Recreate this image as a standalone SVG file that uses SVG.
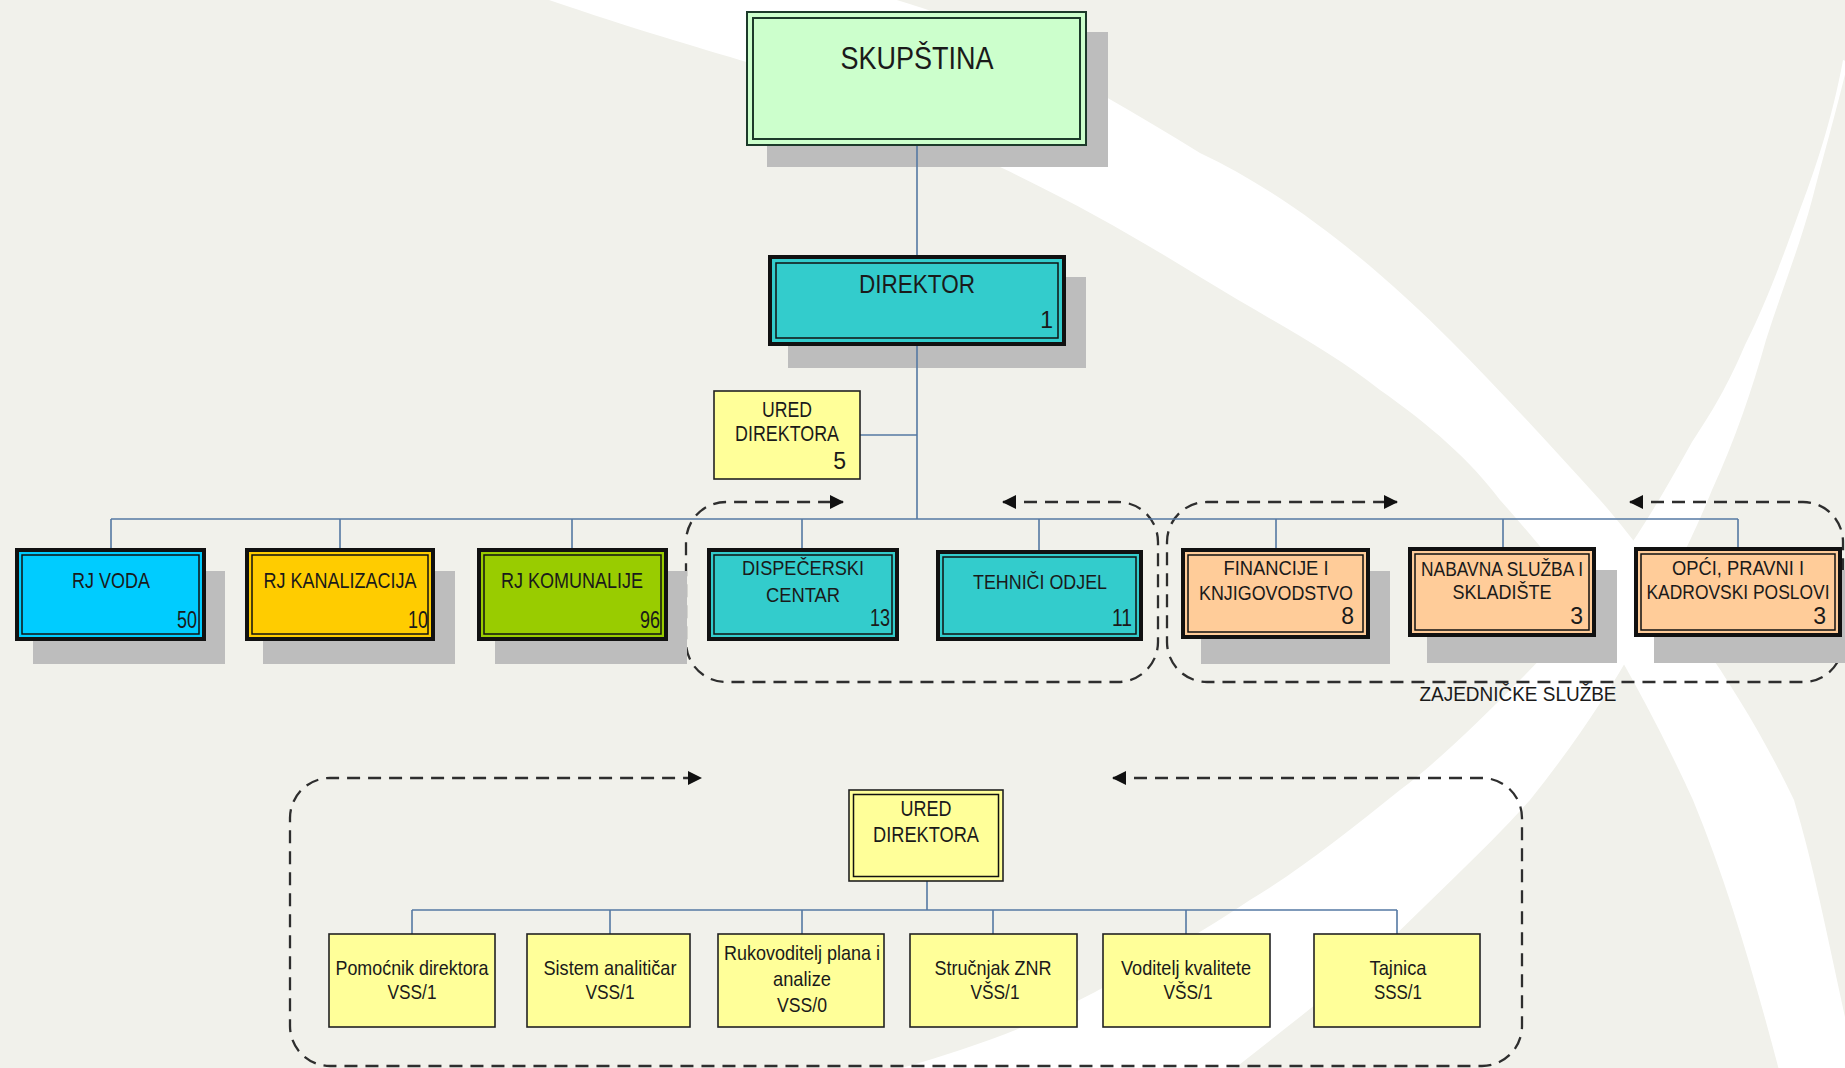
<svg xmlns="http://www.w3.org/2000/svg" width="1845" height="1068" viewBox="0 0 1845 1068">
<defs>
<style>
.t{font-family:"Liberation Sans Narrow","Liberation Sans",Arial,sans-serif;fill:#1a1a1a;text-anchor:middle;}
.n{font-family:"Liberation Sans Narrow","Liberation Sans",Arial,sans-serif;fill:#1a1a1a;text-anchor:end;font-size:23px;}
.sh{fill:#bdbdbd;}
.ob{stroke:#111;stroke-width:4;}
.ib{fill:none;stroke:#111;stroke-width:1.5;}
.thin{stroke:#222;stroke-width:1.6;}
.con{fill:none;stroke:#5579a3;stroke-width:1.6;}
.dash{fill:none;stroke:#2e2e2e;stroke-width:2.3;stroke-dasharray:13 8;marker-start:url(#ah);marker-end:url(#ah);}
.band{fill:#ffffff;}
</style>
<marker id="ah" viewBox="0 0 14 14" refX="13" refY="7" markerWidth="14" markerHeight="14" markerUnits="userSpaceOnUse" orient="auto-start-reverse">
<path d="M0,0 L14,7 L0,14 Z" fill="#111"/>
</marker>
</defs>

<rect x="0" y="0" width="1845" height="1068" fill="#f1f1eb"/>
<g id="background">
<path class="band" d="M520,-10 C620,25 690,45 750,63 C850,95 930,130 1000,167 C1080,205 1140,240 1200,277 C1270,320 1330,350 1380,390 C1430,425 1470,460 1500,500 C1545,550 1580,595 1610,640 C1645,700 1670,750 1693,800 C1730,890 1755,980 1779,1070 L1850,1070 L1850,1040 C1830,950 1815,870 1794,800 C1765,740 1735,690 1700,640 C1670,590 1640,545 1600,500 C1550,445 1500,390 1450,340 C1390,280 1300,200 1200,153 C1130,110 1060,70 1000,40 C950,15 900,0 860,-10 Z"/>
<path class="band" d="M1843,60 C1832,120 1815,170 1798,215 C1780,265 1765,305 1745,345 C1728,385 1712,412 1692,442 C1667,487 1645,525 1620,560 C1590,605 1555,645 1520,680 C1480,720 1440,760 1400,790 C1350,830 1300,870 1250,900 C1190,940 1120,980 1060,1010 C1000,1040 930,1060 860,1080 L1220,1080 C1270,1040 1330,995 1380,950 C1430,900 1485,850 1530,800 C1570,750 1608,695 1638,640 C1666,590 1692,540 1712,490 C1735,440 1752,390 1766,340 C1782,290 1800,245 1812,200 C1825,150 1838,105 1848,62 Z"/>
</g>

<g id="groups">
<path class="dash" d="M1003,502 L1118,502 A40,40 0 0 1 1158,542 L1158,642 A40,40 0 0 1 1118,682 L726,682 A40,40 0 0 1 686,642 L686,542 A40,40 0 0 1 726,502 L843,502"/>
<path class="dash" d="M1630,502 L1803,502 A40,40 0 0 1 1843,542 L1843,642 A40,40 0 0 1 1803,682 L1207,682 A40,40 0 0 1 1167,642 L1167,542 A40,40 0 0 1 1207,502 L1397,502"/>
<path class="dash" d="M1113,778 L1482,778 A40,40 0 0 1 1522,818 L1522,1026 A40,40 0 0 1 1482,1066 L330,1066 A40,40 0 0 1 290,1026 L290,818 A40,40 0 0 1 330,778 L701,778"/>
<text class="t" x="1518" y="701" font-size="21" textLength="197" lengthAdjust="spacingAndGlyphs">ZAJEDNIČKE SLUŽBE</text>
</g>

<g id="shadows">
<rect class="sh" x="767" y="32" width="341" height="135"/>
<rect class="sh" x="788" y="277" width="298" height="91"/>
<rect class="sh" x="33" y="571" width="192" height="93"/>
<rect class="sh" x="263" y="571" width="192" height="93"/>
<rect class="sh" x="495" y="571" width="192" height="93"/>
<rect class="sh" x="1201" y="571" width="189" height="93"/>
<rect class="sh" x="1427" y="570" width="190" height="93"/>
<rect class="sh" x="1654" y="570" width="208" height="93"/>
</g>

<g id="connectors">
<path class="con" d="M917,146 L917,255"/>
<path class="con" d="M917,346 L917,519"/>
<path class="con" d="M860,435 L917,435"/>
<path class="con" d="M111,519 L1738,519"/>
<path class="con" d="M111,519 V548 M340,519 V548 M572,519 V548 M802,519 V548 M1039,519 V550 M1276,519 V548 M1503,519 V547 M1738,519 V547"/>
<path class="con" d="M927,881 L927,910"/>
<path class="con" d="M412,910 L1397,910"/>
<path class="con" d="M412,910 V934 M610,910 V934 M802,910 V934 M993,910 V934 M1186,910 V934 M1397,910 V934"/>
</g>

<g id="skupstina">
<rect x="747" y="12" width="339" height="133" fill="#ccffcc" stroke="#1c3a2a" stroke-width="2"/>
<rect x="753" y="18" width="327" height="121" fill="none" stroke="#1c3a2a" stroke-width="2"/>
<text class="t" x="917" y="69" font-size="32" textLength="153" lengthAdjust="spacingAndGlyphs">SKUPŠTINA</text>
</g>

<g id="direktor">
<rect class="ob" x="770" y="257" width="294" height="87" fill="#33cccc" stroke-width="5"/>
<rect class="ib" x="776" y="263" width="282" height="75"/>
<text class="t" x="917" y="293" font-size="26" textLength="116" lengthAdjust="spacingAndGlyphs">DIREKTOR</text>
<text class="n" x="1053" y="328" font-size="25">1</text>
</g>

<g id="ured-direktora">
<rect class="thin" x="714" y="391" width="146" height="88" fill="#ffff99"/>
<text class="t" x="787" y="417" font-size="22" textLength="50" lengthAdjust="spacingAndGlyphs">URED</text>
<text class="t" x="787" y="441" font-size="22" textLength="104" lengthAdjust="spacingAndGlyphs">DIREKTORA</text>
<text class="n" x="846" y="469">5</text>
</g>

<g id="rj-voda">
<rect class="ob" x="17" y="550" width="187" height="89" fill="#00ccff"/>
<rect class="ib" x="22" y="555" width="177" height="79"/>
<text class="t" x="111" y="588" font-size="22" textLength="78" lengthAdjust="spacingAndGlyphs">RJ VODA</text>
<text class="n" x="197" y="628" textLength="20" lengthAdjust="spacingAndGlyphs">50</text>
</g>

<g id="rj-kanalizacija">
<rect class="ob" x="247" y="550" width="186" height="89" fill="#ffcc00"/>
<rect class="ib" x="252" y="555" width="176" height="79"/>
<text class="t" x="340" y="588" font-size="22" textLength="153" lengthAdjust="spacingAndGlyphs">RJ KANALIZACIJA</text>
<text class="n" x="428" y="628" textLength="20" lengthAdjust="spacingAndGlyphs">10</text>
</g>

<g id="rj-komunalije">
<rect class="ob" x="479" y="550" width="187" height="89" fill="#99cc00"/>
<rect class="ib" x="484" y="555" width="177" height="79"/>
<text class="t" x="572" y="588" font-size="22" textLength="142" lengthAdjust="spacingAndGlyphs">RJ KOMUNALIJE</text>
<text class="n" x="660" y="628" textLength="20" lengthAdjust="spacingAndGlyphs">96</text>
</g>

<g id="dispecerski-centar">
<rect class="ob" x="709" y="550" width="188" height="89" fill="#33cccc"/>
<rect class="ib" x="714" y="555" width="178" height="79"/>
<text class="t" x="803" y="575" font-size="21" textLength="122" lengthAdjust="spacingAndGlyphs">DISPEČERSKI</text>
<text class="t" x="803" y="602" font-size="21" textLength="74" lengthAdjust="spacingAndGlyphs">CENTAR</text>
<text class="n" x="890" y="626" textLength="20" lengthAdjust="spacingAndGlyphs">13</text>
</g>

<g id="tehnici-odjel">
<rect class="ob" x="938" y="552" width="203" height="87" fill="#33cccc"/>
<rect class="ib" x="943" y="557" width="193" height="77"/>
<text class="t" x="1040" y="589" font-size="21" textLength="134" lengthAdjust="spacingAndGlyphs">TEHNIČI ODJEL</text>
<text class="n" x="1132" y="626" textLength="20" lengthAdjust="spacingAndGlyphs">11</text>
</g>

<g id="financije">
<rect class="ob" x="1183" y="550" width="185" height="87" fill="#ffcc99"/>
<rect class="ib" x="1188" y="555" width="175" height="77"/>
<text class="t" x="1276" y="575" font-size="21" textLength="105" lengthAdjust="spacingAndGlyphs">FINANCIJE I</text>
<text class="t" x="1276" y="600" font-size="21" textLength="154" lengthAdjust="spacingAndGlyphs">KNJIGOVODSTVO</text>
<text class="n" x="1354" y="624">8</text>
</g>

<g id="nabavna">
<rect class="ob" x="1410" y="549" width="184" height="86" fill="#ffcc99"/>
<rect class="ib" x="1415" y="554" width="174" height="76"/>
<text class="t" x="1502" y="576" font-size="20" textLength="162" lengthAdjust="spacingAndGlyphs">NABAVNA SLUŽBA I</text>
<text class="t" x="1502" y="599" font-size="21" textLength="99" lengthAdjust="spacingAndGlyphs">SKLADIŠTE</text>
<text class="n" x="1583" y="624">3</text>
</g>

<g id="opci">
<rect class="ob" x="1636" y="549" width="204" height="86" fill="#ffcc99"/>
<rect class="ib" x="1641" y="554" width="194" height="76"/>
<text class="t" x="1738" y="575" font-size="21" textLength="132" lengthAdjust="spacingAndGlyphs">OPĆI, PRAVNI I</text>
<text class="t" x="1738" y="599" font-size="19.5" textLength="183" lengthAdjust="spacingAndGlyphs">KADROVSKI POSLOVI</text>
<text class="n" x="1826" y="624">3</text>
</g>

<g id="ured-direktora-2">
<rect class="thin" x="849" y="790" width="154" height="91" fill="#ffff99"/>
<rect class="ib" x="853.5" y="794.5" width="145" height="82" stroke="#222"/>
<text class="t" x="926" y="816" font-size="22" textLength="51" lengthAdjust="spacingAndGlyphs">URED</text>
<text class="t" x="926" y="842" font-size="22" textLength="106" lengthAdjust="spacingAndGlyphs">DIREKTORA</text>
</g>

<g id="pomocnik">
<rect class="thin" x="329" y="934" width="166" height="93" fill="#ffff99"/>
<text class="t" x="412" y="975" font-size="21" textLength="153" lengthAdjust="spacingAndGlyphs">Pomoćnik direktora</text>
<text class="t" x="412" y="999" font-size="21" textLength="49" lengthAdjust="spacingAndGlyphs">VSS/1</text>
</g>

<g id="sistem">
<rect class="thin" x="527" y="934" width="163" height="93" fill="#ffff99"/>
<text class="t" x="610" y="975" font-size="21" textLength="133" lengthAdjust="spacingAndGlyphs">Sistem analitičar</text>
<text class="t" x="610" y="999" font-size="21" textLength="49" lengthAdjust="spacingAndGlyphs">VSS/1</text>
</g>

<g id="rukovoditelj">
<rect class="thin" x="718" y="934" width="166" height="93" fill="#ffff99"/>
<text class="t" x="802" y="960" font-size="21" textLength="156" lengthAdjust="spacingAndGlyphs">Rukovoditelj plana i</text>
<text class="t" x="802" y="986" font-size="21" textLength="58" lengthAdjust="spacingAndGlyphs">analize</text>
<text class="t" x="802" y="1012" font-size="21" textLength="50" lengthAdjust="spacingAndGlyphs">VSS/0</text>
</g>

<g id="strucnjak">
<rect class="thin" x="910" y="934" width="167" height="93" fill="#ffff99"/>
<text class="t" x="993" y="975" font-size="21" textLength="117" lengthAdjust="spacingAndGlyphs">Stručnjak ZNR</text>
<text class="t" x="995" y="999" font-size="21" textLength="49" lengthAdjust="spacingAndGlyphs">VŠS/1</text>
</g>

<g id="voditelj">
<rect class="thin" x="1103" y="934" width="167" height="93" fill="#ffff99"/>
<text class="t" x="1186" y="975" font-size="21" textLength="130" lengthAdjust="spacingAndGlyphs">Voditelj kvalitete</text>
<text class="t" x="1188" y="999" font-size="21" textLength="49" lengthAdjust="spacingAndGlyphs">VŠS/1</text>
</g>

<g id="tajnica">
<rect class="thin" x="1314" y="934" width="166" height="93" fill="#ffff99"/>
<text class="t" x="1398" y="975" font-size="21" textLength="57" lengthAdjust="spacingAndGlyphs">Tajnica</text>
<text class="t" x="1398" y="999" font-size="21" textLength="48" lengthAdjust="spacingAndGlyphs">SSS/1</text>
</g>
</svg>
